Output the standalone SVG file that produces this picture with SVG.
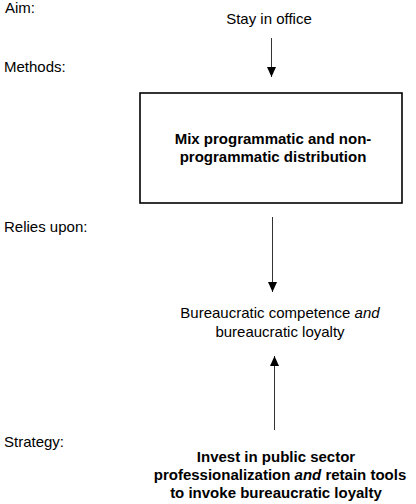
<svg xmlns="http://www.w3.org/2000/svg" width="416" height="504" viewBox="0 0 416 504">
<style>
text{font-family:"Liberation Sans",Arial,sans-serif;font-size:15px;fill:#000}
.c{text-anchor:middle}
.b{font-weight:bold}
.conn{stroke:#333;stroke-width:1;fill:none}
</style>
<defs>
<marker id="ah" viewBox="0 0 10 10" refX="10" refY="5" markerWidth="10" markerHeight="10" markerUnits="userSpaceOnUse" orient="auto">
<path d="M0,0.5 L10,5 L0,9.5 Z" fill="#000"/>
</marker>
</defs>
<rect width="416" height="504" fill="#fff"/>
<g id="labels">
<text x="5" y="13">Aim:</text>
<text x="4" y="72">Methods:</text>
<text x="4" y="232">Relies upon:</text>
<text x="4" y="447">Strategy:</text>
</g>
<g id="aim">
<text class="c" x="269" y="24">Stay in office</text>
</g>
<g id="methods">
<rect x="140" y="93" width="262" height="110" fill="#fff" stroke="#000" stroke-width="1.6"/>
<text class="c b" x="273" y="144">Mix programmatic and non-</text>
<text class="c b" x="273" y="162">programmatic distribution</text>
</g>
<g id="relies">
<text class="c" x="280" y="318">Bureaucratic competence <tspan font-style="italic">and</tspan></text>
<text class="c" x="280" y="337">bureaucratic loyalty</text>
</g>
<g id="strategy">
<text class="c b" x="276" y="462">Invest in public sector</text>
<text class="c b" x="280" y="480">professionalization <tspan font-style="italic">and</tspan> retain tools</text>
<text class="c b" x="276" y="498">to invoke bureaucratic loyalty</text>
</g>
<g id="connectors">
<line class="conn" x1="271.5" y1="38" x2="271.5" y2="77" marker-end="url(#ah)"/>
<line class="conn" x1="272.5" y1="217" x2="272.5" y2="292" marker-end="url(#ah)"/>
<line class="conn" x1="274.5" y1="430" x2="274.5" y2="356" marker-end="url(#ah)"/>
</g>
</svg>
